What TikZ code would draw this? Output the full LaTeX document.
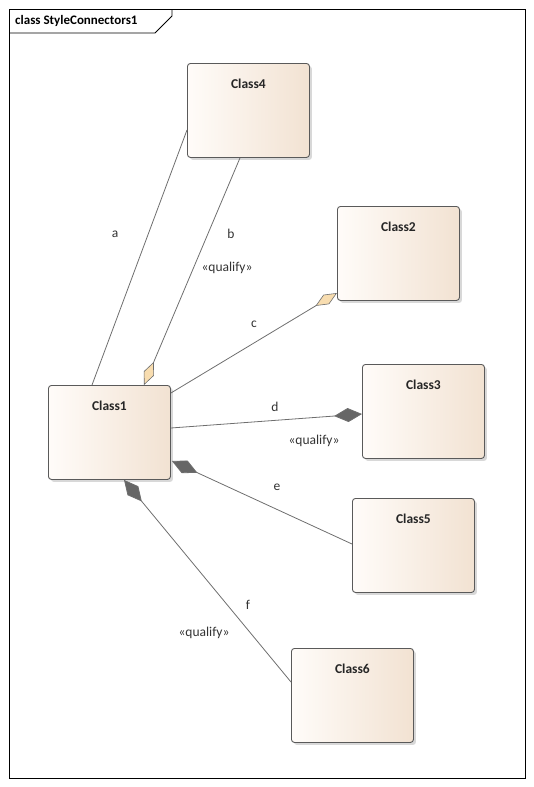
\documentclass[tikz,border=0pt]{standalone}
\usepackage{fontspec}
\setmainfont{Carlito}
\usetikzlibrary{arrows.meta,calc,shadows}
\definecolor{boxleft}{HTML}{FFFCF9}
\definecolor{boxright}{HTML}{F2E2D2}
\definecolor{boxline}{HTML}{5A5A5A}
\definecolor{linkline}{HTML}{6E6E6E}
\definecolor{aggfill}{HTML}{F8DDB0}
\definecolor{compfill}{HTML}{666666}
\definecolor{labeltext}{HTML}{333333}
\tikzset{
  classbox/.style={draw=boxline, line width=0.9pt, rounded corners=3pt, left color=boxleft, right color=boxright,
    anchor=north west, inner sep=0pt, text width=122pt, text height=25pt, text depth=69pt, align=center,
    font=\fontsize{13.5pt}{15pt}\selectfont\bfseries, text=black!85,
    drop shadow={shadow xshift=2.5pt, shadow yshift=-2.5pt, fill=black!30}},
  link/.style={draw=linkline, line width=0.8pt},
  agg/.style={link, -{Diamond[length=25pt,width=11pt,fill=aggfill,line width=0.6pt]}},
  comp/.style={link, -{Diamond[length=28pt,width=14pt,fill=compfill]}},
  linklabel/.style={font=\fontsize{13.5pt}{15pt}\selectfont, text=labeltext, inner sep=1pt}
}
\begin{document}
\begin{tikzpicture}[x=1pt, y=-1pt]
	\useasboundingbox (0,0) rectangle (534,787);
	\draw[line width=0.9pt] (9,9) rectangle (525,778);
	\draw[line width=0.9pt] (9,33) -- (155,33) -- (172,16) -- (172,9);
	\node[anchor=west, inner sep=0pt, font=\fontsize{13pt}{15pt}\selectfont\bfseries] (title) at (15,21) {class StyleConnectors1};
	
	\node[classbox] (class4) at (187,63) {Class4};
	\node[classbox] (class2) at (337,206) {Class2};
	\node[classbox] (class3) at (362,364) {Class3};
	\node[classbox] (class1) at (48,385) {Class1};
	\node[classbox] (class5) at (352,498) {Class5};
	\node[classbox] (class6) at (291,648) {Class6};
	
	\draw[link] ($(class1.north west)+(44,0)$) -- ($(class4.north west)+(0,67)$);
	\draw[agg] ($(class4.south west)+(53,0)$) -- ($(class1.north west)+(96,0)$);
	\draw[agg] ($(class1.north east)+(0,8)$) -- ($(class2.north west)+(0,87)$);
	\draw[comp] ($(class1.north east)+(0,43)$) -- ($(class3.north west)+(0,50)$);
	\draw[comp] ($(class5.north west)+(0,46)$) -- ($(class1.north east)+(1,76)$);
	\draw[comp] ($(class6.north west)+(0,34)$) -- ($(class1.south west)+(76,0)$);
	
	\node[linklabel] (la) at (115,234) {a};
	\node[linklabel] (lb) at (231,234) {b};
	\node[linklabel] (qb) at (227,268) {«qualify»};
	\node[linklabel] (lc) at (254,324) {c};
	\node[linklabel] (ld) at (275,407) {d};
	\node[linklabel] (qd) at (314,441) {«qualify»};
	\node[linklabel] (le) at (277,487) {e};
	\node[linklabel] (lf) at (248,605) {f};
	\node[linklabel] (qf) at (204,633) {«qualify»};
\end{tikzpicture}
\end{document}
